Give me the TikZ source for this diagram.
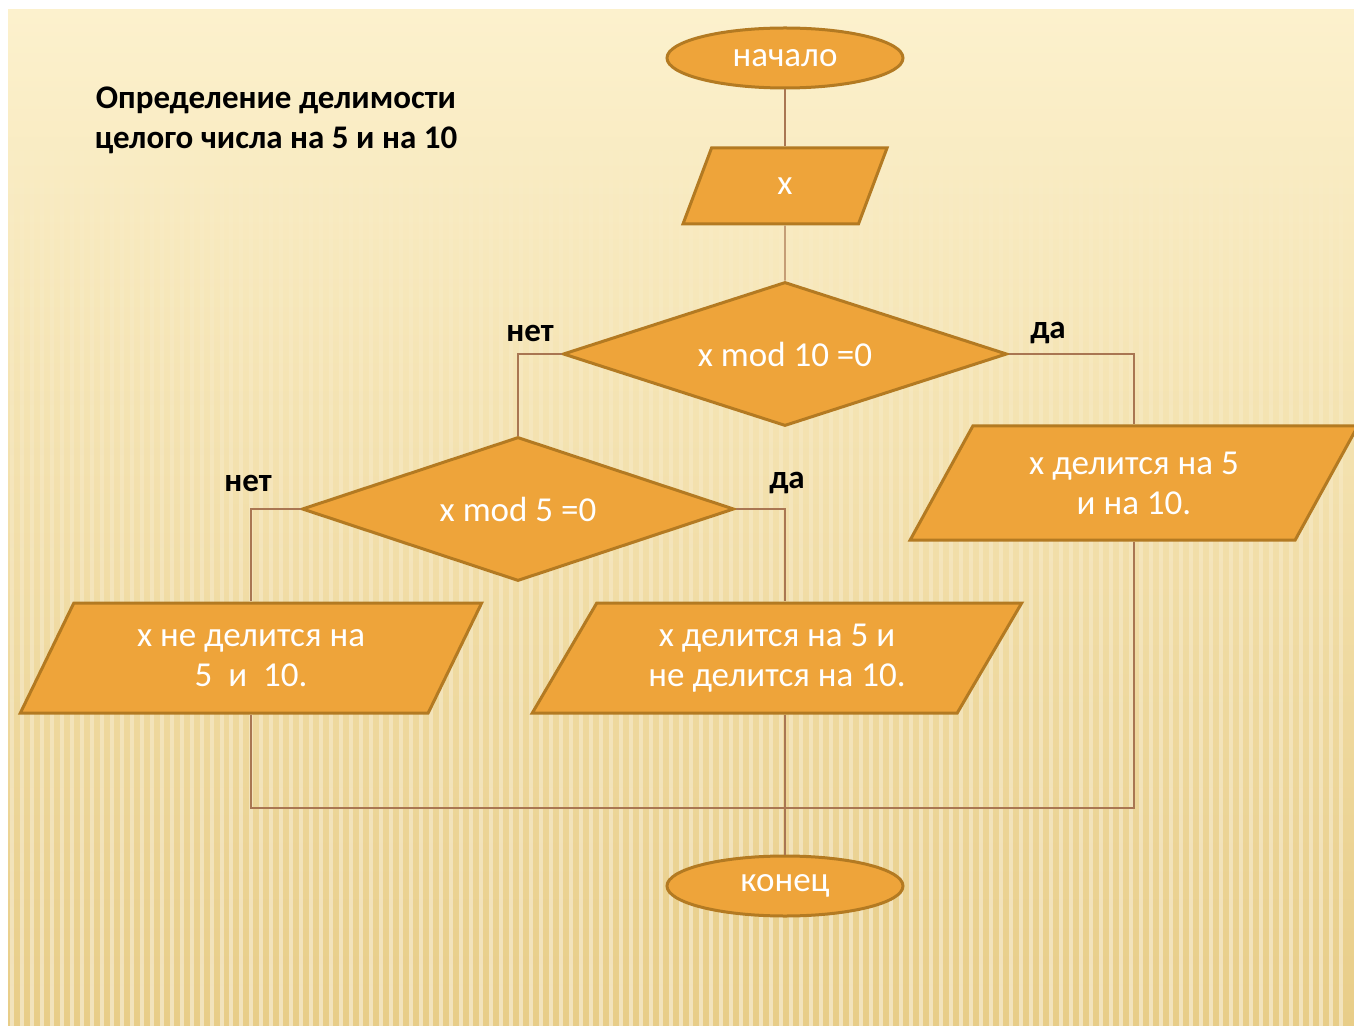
\documentclass[tikz,border=0pt]{standalone}
\usepackage{fontspec}
\setmainfont{Carlito}
\usetikzlibrary{shapes.geometric, positioning, fadings}

\definecolor{boxfill}{HTML}{EEA43A}
\definecolor{boxedge}{HTML}{B37A22}
\definecolor{linecol}{HTML}{A97652}
\definecolor{bgtop}{HTML}{FCF1CD}
\definecolor{bgbot}{HTML}{E8CD88}

\tikzset{
  startstop/.style={ellipse, draw=boxedge, line width=1.5pt, fill=boxfill, text=white, minimum width=118pt, minimum height=30pt, inner sep=0pt, font=\fontsize{17.5}{20}\selectfont},
  io/.style={trapezium, trapezium stretches, draw=boxedge, line width=1.5pt, fill=boxfill, text=white, align=center, inner sep=0pt, font=\fontsize{17.5}{20}\selectfont},
  decision/.style={diamond, aspect=3, draw=boxedge, line width=1.5pt, fill=boxfill, text=white, inner sep=0pt, font=\fontsize{17.5}{20}\selectfont},
  connector/.style={draw=linecol, line width=0.7pt},
  answer/.style={font=\fontsize{16.5}{20}\selectfont\bfseries}
}

\begin{document}
\begin{tikzpicture}[x=0.5pt, y=-0.5pt, font=\fontsize{16}{20}\selectfont]

\useasboundingbox (0,0) rectangle (1354,1026);

% Background
\fill[white] (0,0) rectangle (1354,1026);
\shade[top color=bgtop, bottom color=bgbot] (8,10) rectangle (1354,1026);
\draw[white, opacity=0.45, line width=2pt, path fading=north]
    \foreach \sx in {12,22,...,1350} { (\sx,120) -- (\sx,1026) };

% Title
\node[align=center, font=\fontsize{16.5}{20}\selectfont\bfseries] (title) at (276,120) {Определение делимости\\целого числа на 5 и на 10};

% Start and input
\node[startstop] (start) at (785,58) {начало};
\node[io, trapezium left angle=80, trapezium right angle=100, minimum width=102pt, minimum height=38pt] (input) at (785,186) {x};

% Decisions
\node[decision, minimum width=222pt, minimum height=72pt] (mod10) at (785,354) {x mod 10 =0};
\node[decision, minimum width=216pt, minimum height=72pt] (mod5) at (518,509) {x mod 5 =0};

% Outputs
\node[io, trapezium left angle=59, trapezium right angle=121, minimum width=231pt, minimum height=55pt] (notdiv) at (251,658) {x не делится на\\5~~и~~10.};
\node[io, trapezium left angle=56, trapezium right angle=124, minimum width=245pt, minimum height=55pt] (div5) at (777,658) {x делится на 5 и\\не делится на 10.};
\node[io, trapezium left angle=57, trapezium right angle=123, minimum width=224pt, minimum height=57pt] (div10) at (1134,483) {x делится на 5\\и на 10.};

% End
\node[startstop] (stop) at (785,886) {конец};
\coordinate (merge) at (785,808);

% Answer labels
\node[answer] (no10) at (530,333) {нет};
\node[answer] (yes10) at (1048,333) {да};
\node[answer] (no5) at (248,483) {нет};
\node[answer] (yes5) at (787,483) {да};

% Connectors
\draw[connector] (start) -- (input);
\draw[connector] (input) -- (mod10);
\draw[connector] (mod10.west) -| (mod5.north);
\draw[connector] (mod10.east) -| (div10.north);
\draw[connector] (mod5.west) -| (notdiv.north);
\draw[connector] (mod5.east) -| ([xshift=4pt]div5.north);
\draw[connector] (notdiv.south) |- (merge);
\draw[connector] (div10.south) |- (merge);
\draw[connector] (merge |- div5.south) -- (stop.north);

\end{tikzpicture}
\end{document}
